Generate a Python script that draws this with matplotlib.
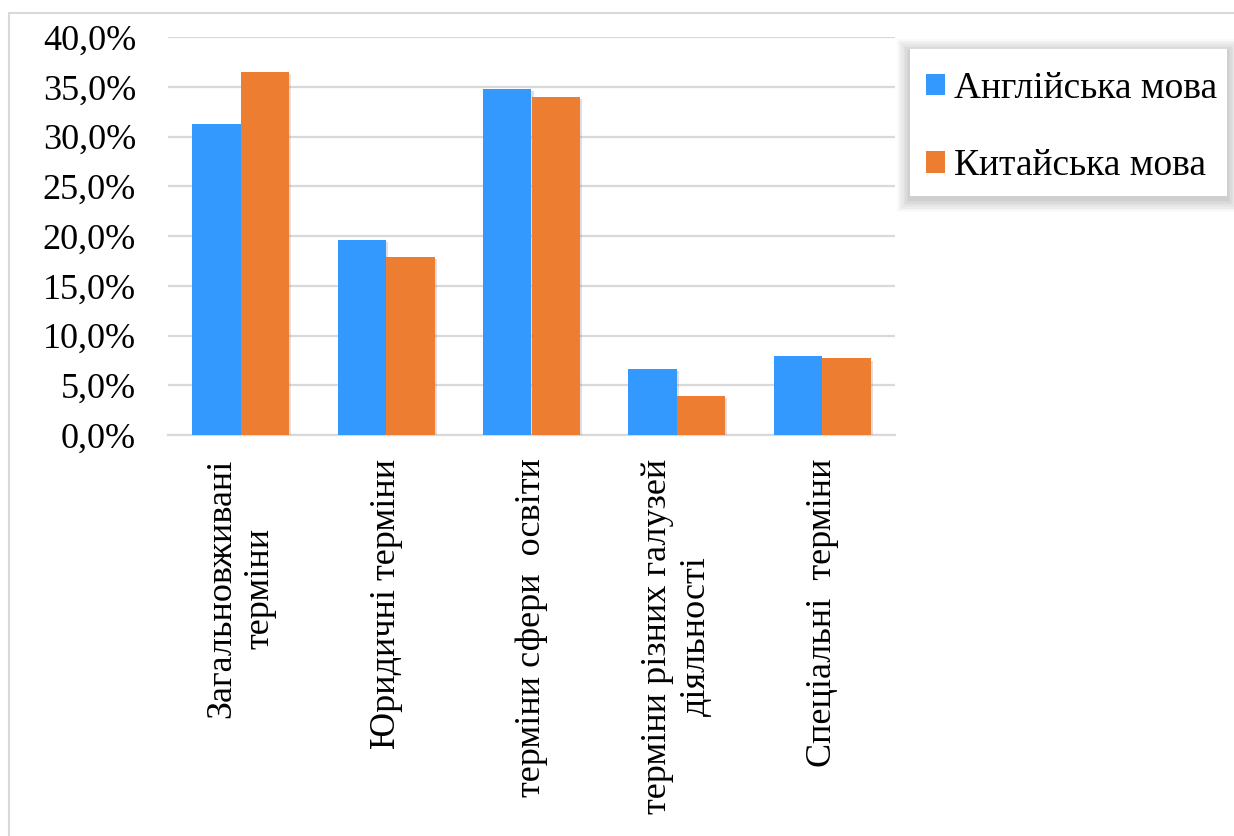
import matplotlib
matplotlib.use("Agg")
import matplotlib.pyplot as plt
import matplotlib.patheffects as pe
from matplotlib.patches import Rectangle, Patch
from matplotlib.ticker import FuncFormatter
import numpy as np

# data
categories = ["Загальновживані\nтерміни", "Юридичні терміни", "терміни сфери  освіти",
              "терміни різних галузей\nдіяльності", "Спеціальні  терміни"]
english = [31.3, 19.6, 34.8, 6.6, 7.9]
chinese = [36.5, 17.9, 34.0, 3.9, 7.7]
series_names = ["Англійська мова", "Китайська мова"]
colors = ["#3399ff", "#ed7d31"]

plt.rcParams['font.family'] = ['Liberation Serif', 'DejaVu Serif']

fig = plt.figure(figsize=(12.34, 8.36), dpi=100)
ax = fig.add_axes([168 / 1234, 1 - 435 / 836, 727 / 1234, (435 - 37.3) / 836])

x = np.arange(len(categories))
w = 0.333
shadow = [pe.SimplePatchShadow(offset=(1.5, -1.5), shadow_rgbFace="gray", alpha=0.25), pe.Normal()]
ax.bar(x - w / 2, english, w, color=colors[0], zorder=3, path_effects=shadow)
ax.bar(x + w / 2, chinese, w, color=colors[1], zorder=3, path_effects=shadow)

ax.set_xlim(-0.5, len(categories) - 0.5)
ax.set_ylim(0, 40)
ax.set_yticks(np.arange(0, 41, 5))
ax.yaxis.set_major_formatter(FuncFormatter(lambda v, p: f"{v:.1f}%".replace(".", ",")))
ax.set_xticks(x)
ax.set_xticklabels(categories, rotation=90, ha="center", va="top", multialignment="center")
ax.tick_params(axis="y", length=0, pad=23, labelsize=26, labelcolor="black")
ax.tick_params(axis="x", length=0, pad=17, labelsize=26, labelcolor="black")
ax.grid(axis="y", color="#d9d9d9", linewidth=1.6, zorder=0)
ax.set_axisbelow(True)
for s in ["top", "right", "left"]:
    ax.spines[s].set_visible(False)
ax.spines["bottom"].set_color("#d9d9d9")
ax.spines["bottom"].set_linewidth(1.6)

# outer chart frame (left + top edges visible)
fig.add_artist(Rectangle((8.5 / 1234, -0.1), 1.2, 1 - 13 / 836 + 0.1, transform=fig.transFigure,
                         fill=False, edgecolor="#d9d9d9", linewidth=1.5))

# legend box with soft shadow
lx0, lx1 = 910 / 1234, 1227 / 1234
ly0, ly1 = 1 - 196 / 836, 1 - 49 / 836
for i in range(8, 0, -1):
    d = i * 1.6
    fig.add_artist(Rectangle((lx0 - d / 1234, ly0 - (d + 3) / 836),
                             (lx1 - lx0) + 2 * d / 1234, (ly1 - ly0) + (2 * d) / 836,
                             transform=fig.transFigure, facecolor="black",
                             edgecolor="none", alpha=0.025))
fig.add_artist(Rectangle((lx0, ly0), lx1 - lx0, ly1 - ly0, transform=fig.transFigure,
                         facecolor="white", edgecolor="none"))
handles = [Patch(facecolor=c) for c in colors]
fig.legend(handles, series_names, loc="upper left", bbox_to_anchor=(926 / 1234, 1 - 71 / 836),
           frameon=False, fontsize=27, handlelength=0.5, handleheight=0.5, handletextpad=0.25,
           labelspacing=1.15, borderpad=0, borderaxespad=0)

fig.savefig("out.png", dpi=100)
